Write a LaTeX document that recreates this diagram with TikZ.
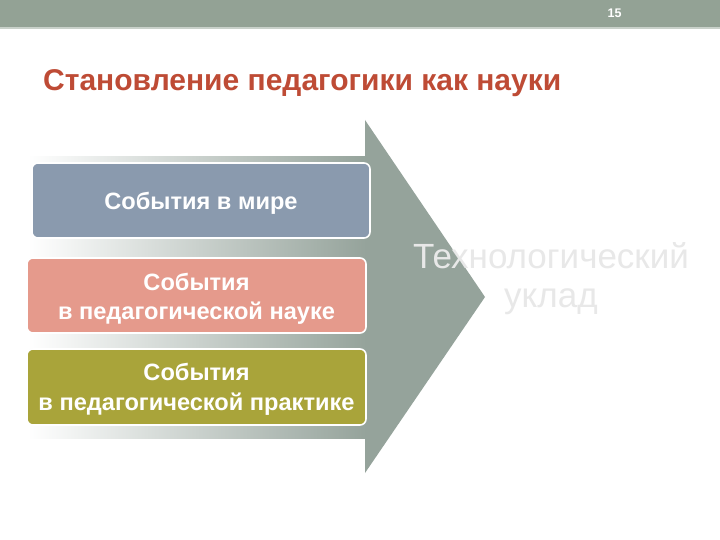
\documentclass[tikz,border=0pt]{standalone}
\usepackage{fontspec}
\setmainfont{Liberation Sans}
\begin{document}
\begin{tikzpicture}[x=1pt,y=-1pt,
  evbox/.style={draw=white,line width=1.6pt,rounded corners=6pt,inner sep=0pt},
  evtext/.style={text=white,font=\bfseries\fontsize{23.6}{29.5}\selectfont,align=center,inner sep=0pt}]
\definecolor{barc}{HTML}{93A295}
\definecolor{arrc}{HTML}{95A39B}
\definecolor{titc}{HTML}{BE4B35}
\definecolor{bluec}{HTML}{8A9AAE}
\definecolor{salc}{HTML}{E59A8C}
\definecolor{olc}{HTML}{A9A43A}
\useasboundingbox (0,0) rectangle (720,540);
\fill[white] (0,0) rectangle (720,540);
% top bar
\fill[barc] (0,0) rectangle (720,27);
\fill[barc!50!white] (0,27) rectangle (720,29);
\node[text=white,font=\bfseries\fontsize{12.5}{14}\selectfont] (pg) at (614.5,13) {15};
% title
\node[anchor=west,text=titc,font=\bfseries\fontsize{30}{34}\selectfont,inner sep=0pt] (title) at (43,83) {Становление педагогики как науки};
% arrow
\shade[left color=white,right color=arrc] (28,157) rectangle (366,438);
\fill[arrc] (365,120) -- (485,297) -- (365,473) -- cycle;
% boxes
\node[evbox,fill=bluec,minimum width=338pt,minimum height=75pt] (b1) at (201,200.5) {};
\node[evbox,fill=salc,minimum width=339pt,minimum height=75pt] (b2) at (196.5,295.5) {};
\node[evbox,fill=olc,minimum width=339pt,minimum height=76pt] (b3) at (196.5,387) {};
\node[evtext] (t1) at ([yshift=-3pt]b1.center) {События в мире};
\node[evtext] (t2) at ([yshift=-3.5pt]b2.center) {События\\в педагогической науке};
\node[evtext] (t3) at ([yshift=-2.5pt]b3.center) {События\\в педагогической практике};
% result
\node[text=black!9,font=\fontsize{35}{39}\selectfont,align=center] (res) at (551,279) {Технологический\\уклад};
\end{tikzpicture}
\end{document}
